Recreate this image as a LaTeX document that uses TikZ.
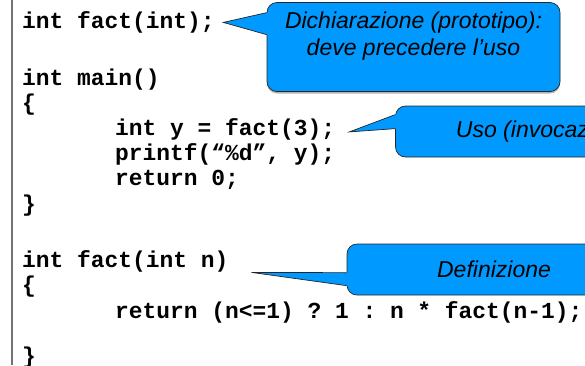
\documentclass[tikz,border=0pt]{standalone}
\usepackage{fontspec}
\setmonofont{Liberation Mono}
\setsansfont{Liberation Sans}
\usepackage{tikz}
\usetikzlibrary{calc,positioning,shadows}
\definecolor{noteblue}{RGB}{0,153,255}

\begin{document}
\begin{tikzpicture}[x=1pt,y=-1pt,
    code/.style={anchor=base west,inner sep=0pt,
      font=\fontsize{22.9}{25.5}\selectfont\ttfamily\bfseries},
    note/.style={draw=black!85,line width=0.7pt,fill=noteblue,rounded corners=10pt,
      inner sep=0pt,align=center,font=\fontsize{23}{26.5}\selectfont\sffamily\itshape},
    tail/.style={draw=black!85,line width=0.7pt,line join=miter}]
  \useasboundingbox (0,0) rectangle (585,365);
  \clip (0,0) rectangle (585,365);
  \draw[black!55,line width=1.4pt] (12,0) -- (12,365);
  \foreach \nm/\x/\y/\txt in {proto/22/28.5/{int fact(int);}, mainhd/22/85.5/{int main()},
      mainop/22/110.5/{\{}, call/115/135/{int y = fact(3);}, print/115/160.5/{printf(“\%d”, y);},
      ret/115/185.5/{return 0;}, maincl/22/211.5/{\}}, defhd/22/267.5/{int fact(int n)},
      defop/22/292.5/{\{}, defret/115/318.5/{return (n<=1) ? 1 : n * fact(n-1);},
      defcl/22/363.3/{\}}} {
    \node[code] (\nm) at (\x,\y) {\txt};
  }
  \node[note,minimum width=293pt,minimum height=89pt,
    drop shadow={shadow xshift=0pt,shadow yshift=-2pt,opacity=.6}] (dich) at (413.5,47)
    {Dichiarazione (prototipo):\\deve precedere l’uso\\\mbox{}};
  \node[note,minimum width=305pt,minimum height=51pt] (uso) at (548,131.5) {Uso (invocazione)};
  \node[note,minimum width=294pt,minimum height=51pt] (defin) at (494,269.5) {Definizione};
  \foreach \src/\nt/\dx/\dy/\ya/\yb in {proto/dich/8.5/0/10.5/32.5, call/uso/14/3/9/23,
      defhd/defin/23/11/29/42} {
    \coordinate (tip) at ($(\src.east)+(\dx,\dy)$);
    \coordinate (ba) at ($(\nt.north west)+(0,\ya)$);
    \coordinate (bb) at ($(\nt.north west)+(0,\yb)$);
    \fill[noteblue] (tip) -- (ba) -- ($(ba)+(2,0)$) -- ($(bb)+(2,0)$) -- (bb) -- cycle;
    \draw[tail] (ba) -- (tip) -- (bb);
  }
\end{tikzpicture}
\end{document}
